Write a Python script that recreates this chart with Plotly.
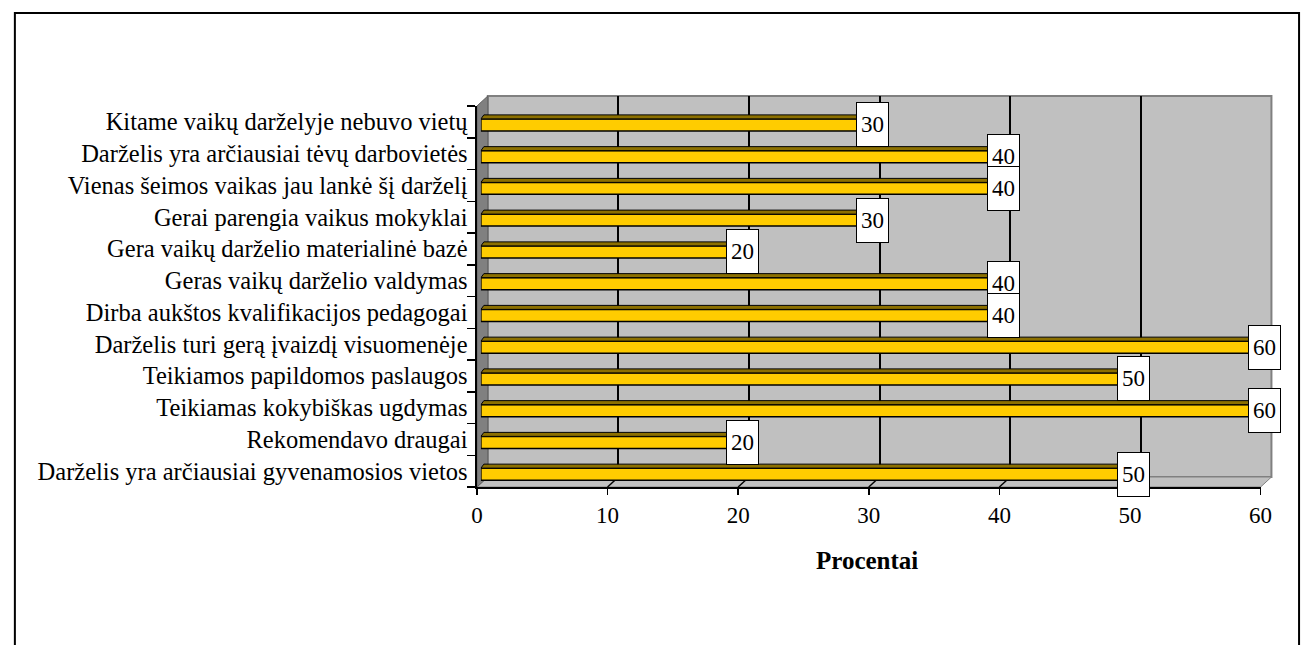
import plotly.graph_objects as go

# ---------------- data ----------------
categories = [
    "Kitame vaikų darželyje nebuvo vietų",
    "Darželis yra arčiausiai tėvų darbovietės",
    "Vienas šeimos vaikas jau lankė šį darželį",
    "Gerai parengia vaikus mokyklai",
    "Gera vaikų darželio materialinė bazė",
    "Geras vaikų darželio valdymas",
    "Dirba aukštos kvalifikacijos pedagogai",
    "Darželis turi gerą įvaizdį visuomenėje",
    "Teikiamos papildomos paslaugos",
    "Teikiamas kokybiškas ugdymas",
    "Rekomendavo draugai",
    "Darželis yra arčiausiai gyvenamosios vietos",
]
values = [30, 40, 40, 30, 20, 40, 40, 60, 50, 60, 20, 50]
x_ticks = [0, 10, 20, 30, 40, 50, 60]
x_title = "Procentai"

# ---------------- geometry (window pixels) ----------------
W, H = 1315, 645
FX0, FX1, FY0, FY1 = 477.5, 1272, 106, 487      # front plane
DX, DY = 11, 10                                   # depth offset of back wall
BX, BY = 4, -3                                    # bars' offset (mid depth)
XMAX = 60
n = len(categories)
ROW = (FY1 - FY0) / n
FONT = "Liberation Serif, Times New Roman, serif"


def fx(px):
    return px / W


def fy(py):
    return 1 - py / H


idx = list(range(n))
yrange = [n - 0.5, -0.5]
bar_w = 12 / ROW

fig = go.Figure()

# bars (front faces) on the bar axes x3/y3
fig.add_trace(go.Bar(
    x=values, y=idx, orientation="h", width=bar_w, base=0,
    marker=dict(color="#FFCC00", line=dict(color="black", width=1.5)),
    xaxis="x3", yaxis="y3", hoverinfo="skip", showlegend=False,
))

# bar top faces (parallelograms), derived from the values
pxu3 = (FX1 - FX0) / XMAX
ddx = 3 / pxu3
ddy = 4 / ROW
tx, ty = [], []
for i, v in zip(idx, values):
    yt = i - bar_w / 2
    tx += [0, v, v + ddx, ddx, 0, None]
    ty += [yt, yt, yt - ddy, yt - ddy, yt, None]
fig.add_trace(go.Scatter(
    x=tx, y=ty, mode="lines", fill="toself", fillcolor="#8C7000",
    line=dict(color="black", width=1), xaxis="x3", yaxis="y3",
    hoverinfo="skip", showlegend=False, cliponaxis=False,
))

# invisible traces to make the other subplots exist
fig.add_trace(go.Scatter(x=[0], y=[0], mode="markers", marker=dict(opacity=0),
                         xaxis="x", yaxis="y", hoverinfo="skip", showlegend=False))
fig.add_trace(go.Scatter(x=[0], y=[0], mode="markers", marker=dict(opacity=0),
                         xaxis="x2", yaxis="y2", hoverinfo="skip", showlegend=False))

# data labels
annotations = []
for i, v in zip(idx, values):
    annotations.append(dict(
        x=v, y=i, xref="x3", yref="y3", text=str(v), showarrow=False,
        font=dict(family=FONT, size=23, color="black"),
        bgcolor="white", bordercolor="black", borderwidth=1, borderpad=1,
        width=29, height=41, xanchor="center", yanchor="middle",
    ))
annotations.append(dict(
    x=fx(873), y=fy(560), xref="paper", yref="paper", text="<b>" + x_title + "</b>",
    showarrow=False, font=dict(family=FONT, size=25, color="black"),
    xanchor="center", yanchor="middle",
))

# walls & floor (paper shapes)
shapes = []
# back wall
shapes.append(dict(type="rect", xref="paper", yref="paper", layer="below",
                   x0=fx(FX0 + DX), x1=fx(FX1 + DX), y0=fy(FY1 - DY), y1=fy(FY0 - DY),
                   fillcolor="#C0C0C0", line=dict(color="#808080", width=2)))
# floor
shapes.append(dict(type="path", xref="paper", yref="paper", layer="below",
                   path=f"M {fx(FX0)},{fy(FY1)} L {fx(FX1)},{fy(FY1)} L {fx(FX1 + DX)},{fy(FY1 - DY)} "
                        f"L {fx(FX0 + DX)},{fy(FY1 - DY)} Z",
                   fillcolor="#C0C0C0", line=dict(color="#808080", width=1)))
# side wall
shapes.append(dict(type="path", xref="paper", yref="paper", layer="below",
                   path=f"M {fx(FX0)},{fy(FY0)} L {fx(FX0 + DX)},{fy(FY0 - DY)} L {fx(FX0 + DX)},{fy(FY1 - DY)} "
                        f"L {fx(FX0)},{fy(FY1)} Z",
                   fillcolor="#808080", line=dict(color="#606060", width=1)))
# floor grid diagonals
for t in x_ticks[1:-1]:
    px = FX0 + t * (FX1 - FX0) / XMAX
    shapes.append(dict(type="line", xref="paper", yref="paper", layer="below",
                       x0=fx(px), y0=fy(FY1), x1=fx(px + DX), y1=fy(FY1 - DY),
                       line=dict(color="black", width=1.5)))
# outer frame (bottom edge lies below the window)
shapes.append(dict(type="rect", xref="paper", yref="paper", layer="above",
                   x0=fx(9), x1=fx(1311), y0=fy(700), y1=fy(13),
                   fillcolor="rgba(0,0,0,0)", line=dict(color="black", width=2)))

fig.update_layout(
    width=W, height=H, autosize=False,
    margin=dict(l=0, r=0, t=0, b=0),
    paper_bgcolor="white", plot_bgcolor="rgba(0,0,0,0)",
    showlegend=False, bargap=0,
    annotations=annotations, shapes=shapes,
    # front axes: ticks and labels
    xaxis=dict(domain=[fx(FX0), fx(FX1)], range=[0, XMAX], anchor="y",
               tickmode="array", tickvals=x_ticks, ticks="outside", ticklen=6,
               tickwidth=1.5, tickcolor="black", showgrid=False, zeroline=False,
               showline=True, linecolor="black", linewidth=1.5,
               ticklabelstandoff=1,
               tickfont=dict(family=FONT, size=23, color="black")),
    yaxis=dict(domain=[fy(FY1), fy(FY0)], range=yrange, anchor="x",
               tickmode="array", tickvals=idx, ticktext=categories,
               ticks="outside", ticklen=3, tickcolor="rgba(0,0,0,0)",
               minor=dict(tickmode="array", tickvals=[i - 0.5 for i in range(n + 1)],
                          ticks="outside", ticklen=8, tickcolor="black", tickwidth=1.5,
                          showgrid=False),
               showgrid=False, zeroline=False, showline=True,
               linecolor="black", linewidth=1.5,
               tickfont=dict(family=FONT, size=24.5, color="black")),
    # back wall axes: vertical gridlines
    xaxis2=dict(domain=[fx(FX0 + DX), fx(FX1 + DX)], range=[0, XMAX], anchor="y2",
                tickmode="array", tickvals=x_ticks[1:-1], showticklabels=False, ticks="",
                showgrid=True, gridcolor="black", gridwidth=2, zeroline=False,
                showline=False),
    yaxis2=dict(domain=[fy(FY1 - DY), fy(FY0 - DY)], range=yrange, anchor="x2",
                showticklabels=False, ticks="", showgrid=False, zeroline=False,
                showline=False),
    # bar axes (mid depth)
    xaxis3=dict(domain=[fx(FX0 + BX), fx(FX1 + BX)], range=[0, XMAX], anchor="y3",
                visible=False, showgrid=False, zeroline=False),
    yaxis3=dict(domain=[fy(FY1 - BY), fy(FY0 - BY)], range=yrange, anchor="x3",
                visible=False, showgrid=False, zeroline=False),
)

fig.write_html(
    "out.html",
    config={"responsive": False, "displayModeBar": False, "staticPlot": True},
    post_script=(
        "document.documentElement.style.margin='0';"
        "document.documentElement.style.overflow='hidden';"
        "document.body.style.margin='0';"
        "document.body.style.overflow='hidden';"
    ),
)
